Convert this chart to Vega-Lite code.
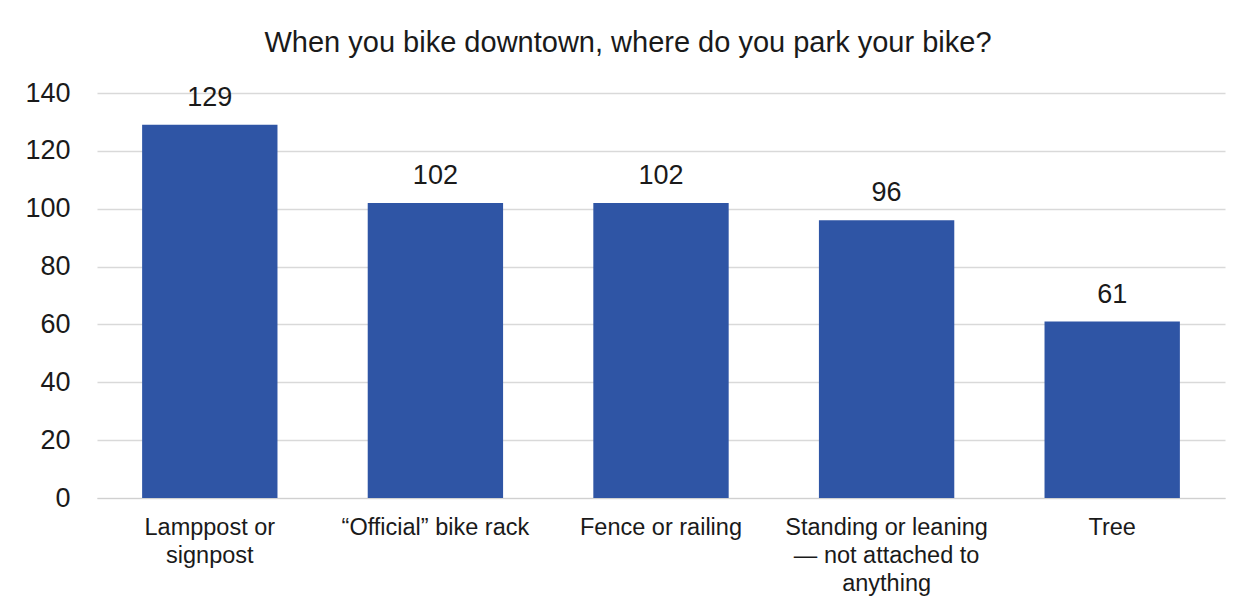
{
  "$schema": "https://vega.github.io/schema/vega-lite/v6.json",
  "autosize": "none",
  "width": 1128,
  "height": 405,
  "padding": {"left": 97, "top": 93, "right": 30, "bottom": 115},
  "background": "white",
  "config": {
    "font": "Liberation Sans",
    "view": {"stroke": null}
  },
  "title": {
    "text": "When you bike downtown, where do you park your bike?",
    "fontSize": 29,
    "fontWeight": "normal",
    "color": "#1a1a1a",
    "anchor": "middle",
    "dx": -33,
    "offset": 21
  },
  "data": {
    "values": [
      {"place": "Lamppost or signpost", "count": 129},
      {"place": "“Official” bike rack", "count": 102},
      {"place": "Fence or railing", "count": 102},
      {"place": "Standing or leaning — not attached to anything", "count": 96},
      {"place": "Tree", "count": 61}
    ]
  },
  "encoding": {
    "x": {
      "field": "place",
      "type": "nominal",
      "sort": null,
      "scale": {"paddingInner": 0.4, "paddingOuter": 0.2},
      "axis": {
        "title": null,
        "labelAngle": 0,
        "labelFontSize": 23.5,
        "labelColor": "#1a1a1a",
        "labelPadding": 17,
        "labelLineHeight": 28,
        "labelLimit": 300,
        "ticks": false,
        "domainColor": "#d0d0d0",
        "labelExpr": "datum.label == 'Lamppost or signpost' ? ['Lamppost or', 'signpost'] : datum.label == 'Standing or leaning — not attached to anything' ? ['Standing or leaning', '— not attached to', 'anything'] : datum.label"
      }
    },
    "y": {
      "field": "count",
      "type": "quantitative",
      "scale": {"domain": [0, 140]},
      "axis": {
        "title": null,
        "values": [0, 20, 40, 60, 80, 100, 120, 140],
        "labelFontSize": 27,
        "labelColor": "#1a1a1a",
        "labelPadding": 27,
        "ticks": false,
        "domain": false,
        "gridColor": "#d9d9d9",
        "gridWidth": 1.3
      }
    }
  },
  "layer": [
    {"mark": {"type": "bar", "color": "#2F55A5"}},
    {
      "mark": {"type": "text", "dy": -27, "fontSize": 27, "color": "#1a1a1a"},
      "encoding": {"text": {"field": "count", "type": "quantitative"}}
    }
  ]
}
